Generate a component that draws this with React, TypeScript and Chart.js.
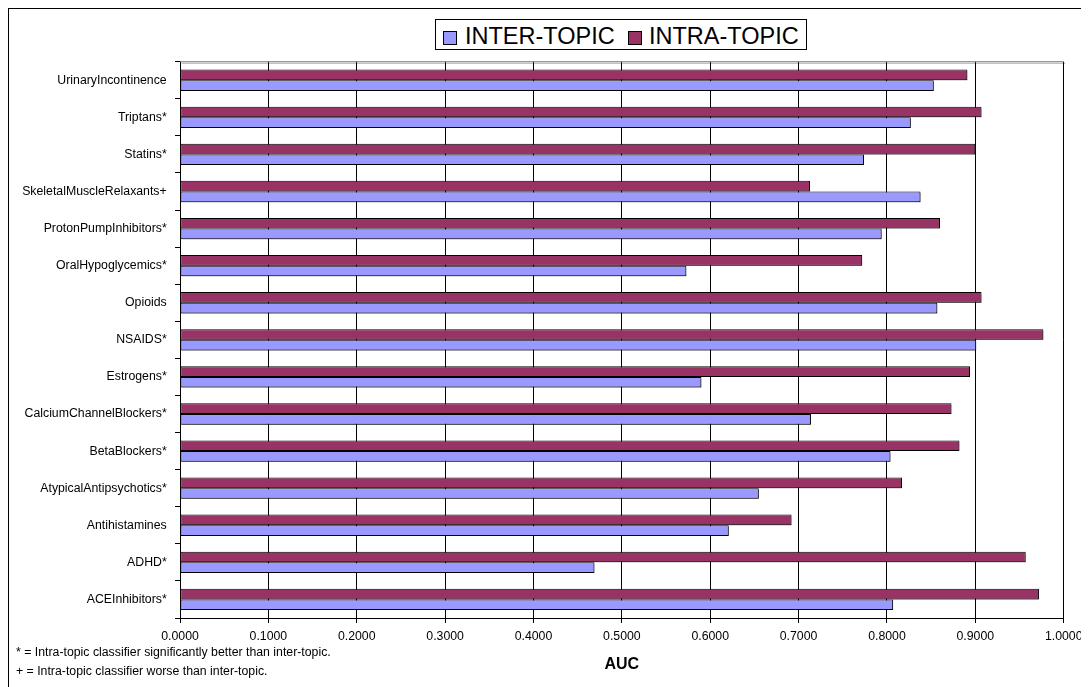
import React, { useEffect, useRef } from 'react';
import { Chart, registerables } from 'chart.js';

Chart.register(...registerables);

const FONT = '"Liberation Sans", Arial, Helvetica, sans-serif';

const categories = [
  'UrinaryIncontinence',
  'Triptans*',
  'Statins*',
  'SkeletalMuscleRelaxants+',
  'ProtonPumpInhibitors*',
  'OralHypoglycemics*',
  'Opioids',
  'NSAIDS*',
  'Estrogens*',
  'CalciumChannelBlockers*',
  'BetaBlockers*',
  'AtypicalAntipsychotics*',
  'Antihistamines',
  'ADHD*',
  'ACEInhibitors*',
];

const interTopic = [0.853, 0.827, 0.774, 0.838, 0.794, 0.573, 0.857, 0.901, 0.590, 0.714, 0.804, 0.655, 0.621, 0.469, 0.807];
const intraTopic = [0.891, 0.907, 0.900, 0.713, 0.860, 0.772, 0.907, 0.977, 0.894, 0.873, 0.882, 0.817, 0.692, 0.957, 0.972];

const seriesNames = ['INTER-TOPIC', 'INTRA-TOPIC'];
const seriesColors = ['#9999FF', '#993366'];

const xTickValues = [0, 0.1, 0.2, 0.3, 0.4, 0.5, 0.6, 0.7, 0.8, 0.9, 1.0];
const xTickLabels = ['0.0000', '0.1000', '0.2000', '0.3000', '0.4000', '0.5000', '0.6000', '0.7000', '0.8000', '0.9000', '1.0000'];

const axisTitle = 'AUC';
const footnotes = [
  '* = Intra-topic classifier significantly better than inter-topic.',
  '+ = Intra-topic classifier worse than inter-topic.',
];

const shadowPlugin = {
  id: 'barShadow',
  beforeDatasetsDraw(chart: any) {
    const ctx = chart.ctx;
    ctx.save();
    ctx.shadowColor = 'rgba(0,0,0,0.35)';
    ctx.shadowOffsetX = 1.5;
    ctx.shadowOffsetY = 1.5;
    ctx.shadowBlur = 0;
  },
  afterDatasetsDraw(chart: any) {
    chart.ctx.restore();
  },
};

const topBorderPlugin = {
  id: 'topBorder',
  beforeDatasetsDraw(chart: any) {
    const { ctx, chartArea } = chart;
    ctx.save();
    ctx.strokeStyle = '#808080';
    ctx.lineWidth = 1;
    ctx.beginPath();
    ctx.moveTo(chartArea.left, chartArea.top);
    ctx.lineTo(chartArea.right, chartArea.top);
    ctx.stroke();
    ctx.restore();
  },
};

export default function App() {
  const ref = useRef<HTMLCanvasElement>(null);

  useEffect(() => {
    const chart = new Chart(ref.current as HTMLCanvasElement, {
      type: 'bar',
      data: {
        labels: categories,
        datasets: [
          {
            label: seriesNames[1],
            data: intraTopic,
            backgroundColor: seriesColors[1],
            borderColor: '#000',
            borderWidth: 1,
            borderSkipped: false,
            categoryPercentage: 0.575,
            barPercentage: 1,
          },
          {
            label: seriesNames[0],
            data: interTopic,
            backgroundColor: seriesColors[0],
            borderColor: '#000',
            borderWidth: 1,
            borderSkipped: false,
            categoryPercentage: 0.575,
            barPercentage: 1,
          },
        ],
      },
      options: {
        indexAxis: 'y',
        animation: false,
        responsive: true,
        maintainAspectRatio: false,
        devicePixelRatio: 1,
        layout: { padding: { top: 52.7, right: 23, left: 0, bottom: 0 } },
        plugins: {
          legend: { display: false },
          tooltip: { enabled: false },
        },
        scales: {
          x: {
            type: 'linear',
            min: 0,
            max: 1,
            afterBuildTicks: (s: any) => {
              s.ticks = xTickValues.map((v) => ({ value: v }));
            },
            afterFit: (s: any) => {
              s.height = 69;
            },
            ticks: {
              callback: (_v: any, i: number) => xTickLabels[i],
              font: { family: FONT, size: 12.3 },
              color: '#000',
              padding: 6.5,
              maxRotation: 0,
              autoSkip: false,
            },
            grid: { color: '#000', lineWidth: 1, tickLength: 5, drawTicks: true },
            border: { color: '#000', width: 1 },
            title: {
              display: true,
              text: axisTitle,
              color: '#000',
              font: { family: FONT, size: 16, weight: 'bold' },
              padding: { top: 0, bottom: 12.4 },
            },
          },
          y: {
            afterFit: (s: any) => {
              s.width = 171;
            },
            ticks: {
              font: { family: FONT, size: 12.3 },
              color: '#000',
              padding: 8.3,
              autoSkip: false,
            },
            grid: { drawOnChartArea: false, tickLength: 5, color: '#000', offset: true },
            border: { color: '#000', width: 1 },
          },
        },
      } as any,
      plugins: [shadowPlugin, topBorderPlugin],
    });
    return () => chart.destroy();
  }, []);

  const textBase: React.CSSProperties = {
    position: 'absolute',
    fontFamily: FONT,
    color: '#000',
    whiteSpace: 'nowrap',
  };

  return (
    <div
      style={{
        position: 'relative',
        width: 1080,
        height: 678,
        borderLeft: '1px solid #000',
        borderTop: '1px solid #000',
        background: '#fff',
      }}
    >
      <style>{'html,body{overflow:hidden;background:#fff;}'}</style>
      <canvas ref={ref} style={{ position: 'absolute', left: 0, top: 0 }} />
      <div
        style={{
          position: 'absolute',
          left: 426,
          top: 10,
          width: 370,
          height: 29,
          border: '1px solid #000',
          background: '#fff',
        }}
      >
        <div
          style={{
            position: 'absolute',
            left: 6.7,
            top: 10.7,
            width: 14,
            height: 14,
            boxSizing: 'border-box',
            border: '1px solid #000',
            background: seriesColors[0],
          }}
        />
        <div style={{ ...textBase, left: 29, top: 4.8, fontSize: 23.5, lineHeight: '23.5px' }}>{seriesNames[0]}</div>
        <div
          style={{
            position: 'absolute',
            left: 191.7,
            top: 10.7,
            width: 14,
            height: 14,
            boxSizing: 'border-box',
            border: '1px solid #000',
            background: seriesColors[1],
          }}
        />
        <div style={{ ...textBase, left: 213, top: 4.8, fontSize: 23.5, lineHeight: '23.5px' }}>{seriesNames[1]}</div>
      </div>
      <div style={{ ...textBase, left: 7, top: 637.1, fontSize: 12.3, lineHeight: '12.3px' }}>{footnotes[0]}</div>
      <div style={{ ...textBase, left: 7, top: 655.6, fontSize: 12.3, lineHeight: '12.3px' }}>{footnotes[1]}</div>
    </div>
  );
}
